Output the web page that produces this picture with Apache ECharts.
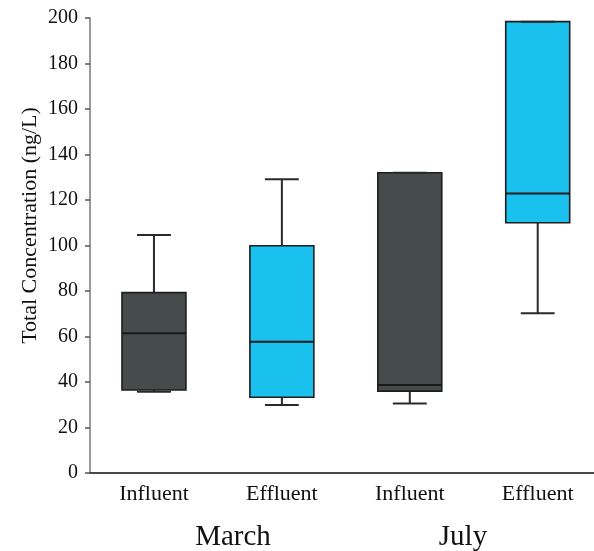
<!DOCTYPE html>
<html>
<head>
<meta charset="utf-8">
<script src="https://cdn.jsdelivr.net/npm/echarts@6/dist/echarts.min.js"></script>
<style>
  html, body { margin: 0; padding: 0; background: #fff; }
  #chart { width: 594px; height: 551px; }
</style>
</head>
<body>
<div id="chart"></div>
<script>
// ---- data ----
const categories = ['Influent', 'Effluent', 'Influent', 'Effluent'];
const months = ['March', 'July'];
const mins    = [35.7, 29.9, 30.6, 70.2];
const q1s     = [36.5, 33.3, 36.0, 110.0];
const medians = [61.4, 57.7, 38.7, 122.9];
const q3s     = [79.3, 99.9, 132.0, 198.4];
const maxs    = [104.6, 129.1, 132.0, 198.4];
const yTicks  = { min: 0, max: 200, interval: 20 };
const catPositions = categories.map((c, i) => i);

const FONT = '"Liberation Serif", "Times New Roman", serif';
const fillFor = name => (name === 'Influent' ? '#464b4b' : '#1bc1ee');

const boxData = categories.map((c, i) => [catPositions[i], mins[i], q1s[i], medians[i], q3s[i], maxs[i]]);

const chart = echarts.init(document.getElementById('chart'), null, { renderer: 'canvas' });
chart.setOption({
  animation: false,
  backgroundColor: '#ffffff',
  grid: { left: 90, top: 18, right: 0, height: 455, containLabel: false },
  xAxis: {
    type: 'value',
    min: -0.5, max: 3.44,
    axisLine: { show: true, onZero: false, lineStyle: { color: '#4a4a4a', width: 2 } },
    axisTick: { show: false },
    axisLabel: {
      color: '#111', fontFamily: FONT, fontSize: 22, margin: 10,
      customValues: catPositions,
      formatter: v => categories[Math.round(v)]
    },
    splitLine: { show: false }
  },
  yAxis: {
    type: 'value',
    min: yTicks.min, max: yTicks.max, interval: yTicks.interval,
    axisLine: { show: true, onZero: false, lineStyle: { color: '#777', width: 1.5 } },
    axisTick: { show: true, inside: false, length: 5, lineStyle: { color: '#555', width: 1.5 } },
    axisLabel: { color: '#111', fontFamily: FONT, fontSize: 20, margin: 12 },
    splitLine: { show: false }
  },
  series: [{
    type: 'custom',
    data: boxData,
    encode: { x: 0, y: [1, 2, 3, 4, 5] },
    renderItem: function (params, api) {
      const pos = api.value(0);
      const band = api.size([1, 0])[0];
      const bw = band * 0.5;
      const cw = bw * 0.53;
      const pMin = api.coord([pos, api.value(1)]);
      const pQ1 = api.coord([pos, api.value(2)]);
      const pMed = api.coord([pos, api.value(3)]);
      const pQ3 = api.coord([pos, api.value(4)]);
      const pMax = api.coord([pos, api.value(5)]);
      const cx = pMed[0];
      const fill = fillFor(categories[params.dataIndex]);
      const lineStyle = { stroke: '#2a2a2a', lineWidth: 2 };
      return {
        type: 'group',
        children: [
          { type: 'line', shape: { x1: cx, y1: pQ3[1], x2: cx, y2: pMax[1] }, style: lineStyle },
          { type: 'line', shape: { x1: cx, y1: pQ1[1], x2: cx, y2: pMin[1] }, style: lineStyle },
          { type: 'rect', shape: { x: cx - bw / 2, y: pQ3[1], width: bw, height: pQ1[1] - pQ3[1] },
            style: { fill: fill, stroke: '#1e1e1e', lineWidth: 1.6 } },
          { type: 'line', shape: { x1: cx - bw / 2, y1: pMed[1], x2: cx + bw / 2, y2: pMed[1] },
            style: { stroke: '#1a1a1a', lineWidth: 2 } },
          { type: 'line', shape: { x1: cx - cw / 2, y1: pMax[1], x2: cx + cw / 2, y2: pMax[1] }, style: lineStyle },
          { type: 'line', shape: { x1: cx - cw / 2, y1: pMin[1], x2: cx + cw / 2, y2: pMin[1] }, style: lineStyle }
        ]
      };
    }
  }],
  graphic: [
    { type: 'text', x: 30, y: 225.5, rotation: Math.PI / 2,
      style: { text: 'Total Concentration (ng/L)', font: '22px ' + FONT, fill: '#111',
               align: 'center', verticalAlign: 'middle' } },
    { type: 'text', x: 233, y: 537,
      style: { text: months[0], font: '29px ' + FONT, fill: '#111', align: 'center', verticalAlign: 'middle' } },
    { type: 'text', x: 463, y: 537,
      style: { text: months[1], font: '29px ' + FONT, fill: '#111', align: 'center', verticalAlign: 'middle' } }
  ]
});
</script>
</body>
</html>
